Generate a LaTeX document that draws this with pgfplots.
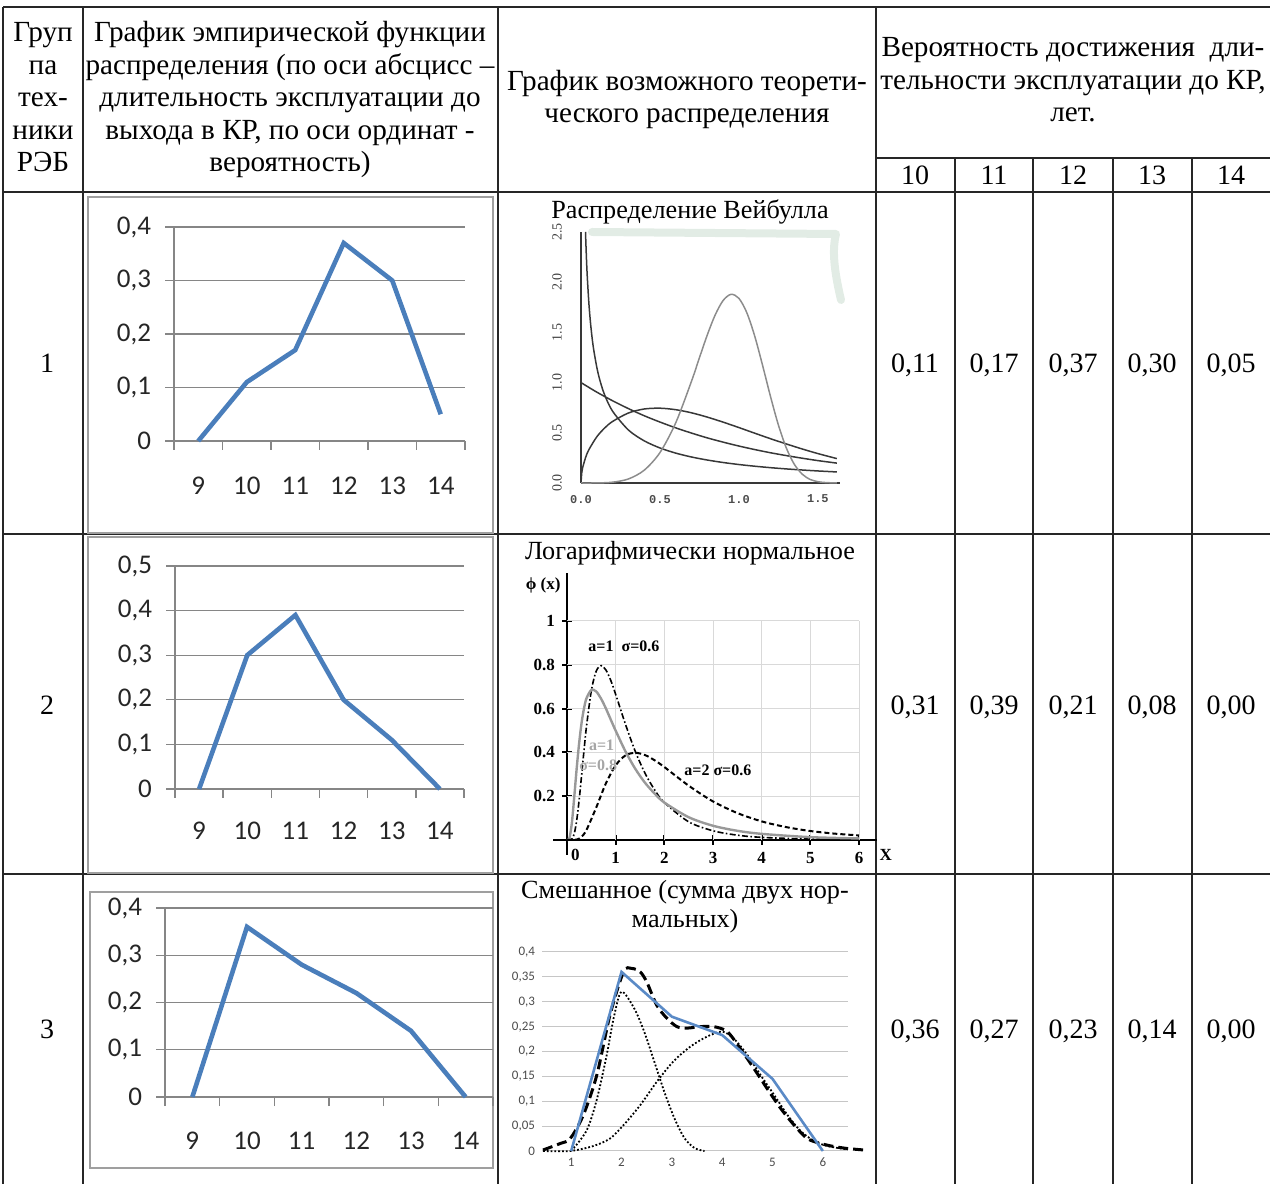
\documentclass[border=0pt]{standalone}
\usepackage{fontspec}
\setmainfont{Liberation Serif}
\newfontfamily\carlito{Carlito}
\newfontfamily\mono{Liberation Mono}
\usepackage{pgfplots}
\pgfplotsset{compat=1.18}
\definecolor{xlblue}{HTML}{4A7EBB}
\definecolor{xlgray}{HTML}{868686}
\definecolor{mixblue}{HTML}{5A8AC6}
\definecolor{wdark}{HTML}{383838}
\definecolor{wlight}{HTML}{8C8C8C}
\definecolor{scrib}{HTML}{E2ECE5}
\newcommand\T{\fontsize{14.6}{16}\selectfont}
\newcommand\N{\fontsize{14}{16}\selectfont}
\newcommand\Ti{\fontsize{13.1}{15}\selectfont}
\pgfplotsset{
  xl/.style={scale only axis, axis lines*=left,
    axis line style={xlgray, line width=0.7pt},
    ymajorgrids, grid style={xlgray, line width=0.7pt},
    tick align=outside, major tick length=4.5pt,
    tick style={xlgray, line width=0.7pt},
    x tick label as interval,
    xtick={8.5,9.5,10.5,11.5,12.5,13.5,14.5},
    xticklabels={9,10,11,12,13,14},
    xmin=8.5, xmax=14.5, ymin=0,
    ticklabel style={font=\carlito\fontsize{13.5}{15}\selectfont, text=black!85},
    yticklabel style={xshift=-3.5pt},
    xticklabel style={yshift=-10pt},
    clip=false},
}
\begin{document}
\begin{tikzpicture}
\path[use as bounding box] (0pt,0pt) rectangle (635pt,592pt);
\begin{scope}[x=0.5pt, y=-0.5pt, shift={(0pt,592pt)}]
% ---------- table grid ----------
\begin{scope}[line width=0.7pt, black!85]
\draw (3,7) -- (1270,7);
\draw (3,192) -- (1270,192);
\draw (3,534) -- (1270,534);
\draw (3,874) -- (1270,874);
\draw (876,158) -- (1270,158);
\draw (3,7) -- (3,1184);
\draw (83,7) -- (83,1184);
\draw (498,7) -- (498,1184);
\draw (876,7) -- (876,1184);
\draw (955,158) -- (955,1184);
\draw (1033,158) -- (1033,1184);
\draw (1113,158) -- (1113,1184);
\draw (1192,158) -- (1192,1184);
\end{scope}
% ---------- header text ----------
\begin{scope}[every node/.style={anchor=base, font=\T, inner sep=0pt}]
\node at (43,42) {Груп};
\node at (43,74.5) {па};
\node at (43,107) {тех-};
\node at (43,139.5) {ники};
\node at (43,172) {РЭБ};
\node at (290,42) {График эмпирической функции};
\node at (290,74.5) {распределения (по оси абсцисс –};
\node at (290,107) {длительность эксплуатации до};
\node at (290,139.5) {выхода в КР, по оси ординат -};
\node at (290,172) {вероятность)};
\node at (687,91) {График возможного теорети-};
\node at (687,123) {ческого распределения};
\node at (1073,57) {Вероятность достижения\ \ дли-};
\node at (1073,90) {тельности эксплуатации до КР,};
\node at (1073,122) {лет.};
\end{scope}
\begin{scope}[every node/.style={anchor=base, font=\N, inner sep=0pt}]
\node at (915,185) {10};
\node at (994,185) {11};
\node at (1073,185) {12};
\node at (1152,185) {13};
\node at (1231,185) {14};
\node at (47,373) {1};
\node at (47,715) {2};
\node at (47,1039) {3};
\node at (915,373) {0,11};
\node at (994,373) {0,17};
\node at (1073,373) {0,37};
\node at (1152,373) {0,30};
\node at (1231,373) {0,05};
\node at (915,715) {0,31};
\node at (994,715) {0,39};
\node at (1073,715) {0,21};
\node at (1152,715) {0,08};
\node at (1231,715) {0,00};
\node at (915,1039) {0,36};
\node at (994,1039) {0,27};
\node at (1073,1039) {0,23};
\node at (1152,1039) {0,14};
\node at (1231,1039) {0,00};
\end{scope}
\begin{scope}[every node/.style={anchor=base, font=\Ti, inner sep=0pt}]
\node at (690,219) {Распределение Вейбулла};
\node at (690,560) {Логарифмически нормальное};
\node at (685,899) {Смешанное (сумма двух нор-};
\node at (685,928) {мальных)};
\end{scope}
% ---------- frames of empirical charts ----------
\draw[gray!75, line width=1pt] (88,197) rectangle (493,533);
\draw[gray!75, line width=1pt] (88,537) rectangle (493,873);
\draw[gray!75, line width=1pt] (90,892) rectangle (493,1168);
\draw[scrib, line width=4pt, line cap=round, line join=round] (592,232) -- (836,234) .. controls (832,250) and (834,270) .. (841,300);
\end{scope}
% ---------- empirical 1 ----------
\begin{axis}[xl, at={(87pt,371.5pt)}, anchor=south west, width=145.5pt, height=107pt,
  ymax=0.4, ytick={0,0.1,0.2,0.3,0.4}, yticklabels={0,{0,1},{0,2},{0,3},{0,4}}]
\addplot[xlblue, line width=2.3pt] coordinates {(9,0) (10,0.11) (11,0.17) (12,0.37) (13,0.30) (14,0.05)};
\end{axis}
% ---------- empirical 2 ----------
\begin{axis}[xl, at={(87.5pt,197.5pt)}, anchor=south west, width=144.5pt, height=111.5pt,
  ymax=0.5, ytick={0,0.1,0.2,0.3,0.4,0.5}, yticklabels={0,{0,1},{0,2},{0,3},{0,4},{0,5}},
  xticklabel style={yshift=1.5pt}]
\addplot[xlblue, line width=2.3pt] coordinates {(9,0) (10,0.30) (11,0.39) (12,0.20) (13,0.11) (14,0)};
\end{axis}
% ---------- empirical 3 ----------
\begin{axis}[xl, at={(82.5pt,43.5pt)}, anchor=south west, width=164pt, height=94.5pt,
  ymax=0.4, ytick={0,0.1,0.2,0.3,0.4}, yticklabels={0,{0,1},{0,2},{0,3},{0,4}},
  xticklabel style={yshift=0.5pt}]
\addplot[xlblue, line width=2.3pt] coordinates {(9,0) (10,0.36) (11,0.28) (12,0.22) (13,0.14) (14,0)};
\end{axis}
% ---------- Weibull ----------
\begin{axis}[at={(290.5pt,350.5pt)}, anchor=south west, scale only axis, width=129.5pt, height=125.5pt,
  xmin=0, xmax=1.64, ymin=0, ymax=2.5, axis lines*=left,
  axis line style={wdark, line width=0.7pt},
  xtick={0,0.5,1,1.5}, xticklabels={0.0,0.5,1.0,1.5},
  ytick={0,0.5,1,1.5,2,2.5}, yticklabels={0.0,0.5,1.0,1.5,2.0,2.5},
  tick style={draw=none},
  xticklabel style={font=\mono\fontsize{6}{7}\selectfont\bfseries, text=black!70, yshift=-2.5pt},
  yticklabel style={font=\fontsize{7}{8}\selectfont, rotate=90, anchor=south, text=black!75, yshift=6pt},
  clip=false]
\addplot[wdark, line width=0.75pt, smooth] coordinates {(0.0286,2.5) (0.03,2.43) (0.035,2.216) (0.04,2.047) (0.05,1.788) (0.06,1.598) (0.07,1.45) (0.08,1.332) (0.1,1.153) (0.12,1.021) (0.15,0.876) (0.2,0.715) (0.3,0.528) (0.4,0.42) (0.5,0.349) (0.6,0.2975) (0.7,0.2588) (0.8,0.2286) (0.9,0.2041) (1.0,0.1839) (1.1,0.1671) (1.2,0.1526) (1.3,0.1402) (1.4,0.1294) (1.5,0.1199) (1.62,0.110)};
\addplot[wdark, line width=0.75pt, smooth] coordinates {(0,1) (0.1,0.905) (0.2,0.819) (0.3,0.741) (0.4,0.670) (0.5,0.607) (0.6,0.549) (0.7,0.497) (0.8,0.449) (0.9,0.407) (1.0,0.368) (1.1,0.333) (1.2,0.301) (1.3,0.273) (1.4,0.247) (1.5,0.223) (1.62,0.198)};
\addplot[wdark, line width=0.75pt, smooth] coordinates {(0,0) (0.005,0.106) (0.01,0.15) (0.03,0.258) (0.05,0.332) (0.1,0.46) (0.15,0.548) (0.2,0.613) (0.3,0.697) (0.4,0.737) (0.5,0.745) (0.6,0.730) (0.7,0.699) (0.8,0.656) (0.9,0.606) (1.0,0.552) (1.1,0.496) (1.2,0.441) (1.3,0.389) (1.4,0.339) (1.5,0.293) (1.62,0.243)};
\addplot[wlight, line width=0.75pt, smooth] coordinates {(0,0) (0.1,0.0005) (0.2,0.008) (0.3,0.040) (0.4,0.127) (0.5,0.303) (0.6,0.600) (0.7,1.015) (0.75,1.248) (0.8,1.476) (0.85,1.675) (0.9,1.818) (0.95,1.879) (1.0,1.839) (1.05,1.696) (1.1,1.463) (1.15,1.170) (1.2,0.861) (1.25,0.577) (1.3,0.349) (1.35,0.188) (1.4,0.089) (1.45,0.036) (1.5,0.013) (1.55,0.004) (1.62,0.0005)};
\end{axis}
% ---------- Lognormal ----------
\begin{axis}[at={(276.5pt,164.5pt)}, anchor=south west, scale only axis, width=162pt, height=141pt,
  xmin=-0.288, xmax=6.37, ymin=-0.0685, ymax=1.219,
  axis lines=middle, axis line style={line width=1pt,-},
  xtick={1,2,3,4,5,6}, ytick={0.2,0.4,0.6,0.8,1},
  xticklabels={1,2,3,4,5,6}, yticklabels={0.2,0.4,0.6,0.8,1},
  tick align=center, major tick length=5pt, tick style={line width=1pt, black},
  ticklabel style={font=\fontsize{8.5}{10}\selectfont\bfseries},
  clip=false]
\draw[gray!30, line width=0.5pt] (axis cs:1,0) -- (axis cs:1,1);
\draw[gray!30, line width=0.5pt] (axis cs:2,0) -- (axis cs:2,1);
\draw[gray!30, line width=0.5pt] (axis cs:3,0) -- (axis cs:3,1);
\draw[gray!30, line width=0.5pt] (axis cs:4,0) -- (axis cs:4,1);
\draw[gray!30, line width=0.5pt] (axis cs:5,0) -- (axis cs:5,1);
\draw[gray!30, line width=0.5pt] (axis cs:6,0) -- (axis cs:6,1);
\draw[gray!30, line width=0.5pt] (axis cs:0,0.2) -- (axis cs:6,0.2);
\draw[gray!30, line width=0.5pt] (axis cs:0,0.4) -- (axis cs:6,0.4);
\draw[gray!30, line width=0.5pt] (axis cs:0,0.6) -- (axis cs:6,0.6);
\draw[gray!30, line width=0.5pt] (axis cs:0,0.8) -- (axis cs:6,0.8);
\draw[gray!30, line width=0.5pt] (axis cs:0,1) -- (axis cs:6,1);
\addplot[black, line width=0.8pt, smooth, dash pattern=on 3pt off 1.2pt on 0.8pt off 1.2pt] coordinates {(0,0) (0.1,0.0042) (0.15,0.030) (0.2,0.091) (0.25,0.184) (0.3,0.296) (0.35,0.411) (0.4,0.518) (0.5,0.682) (0.6,0.771) (0.7,0.796) (0.8,0.776) (0.9,0.728) (1.0,0.665) (1.2,0.529) (1.4,0.406) (1.6,0.306) (1.8,0.229) (2.0,0.171) (2.5,0.083) (3.0,0.042) (3.5,0.022) (4.0,0.012) (5.0,0.004) (6.0,0.001)};
\addplot[gray!80, line width=1.2pt, smooth] coordinates {(0,0) (0.05,0.009) (0.1,0.079) (0.15,0.200) (0.2,0.330) (0.25,0.444) (0.3,0.536) (0.35,0.602) (0.4,0.647) (0.5,0.685) (0.6,0.678) (0.7,0.645) (0.8,0.600) (0.9,0.549) (1.0,0.499) (1.2,0.405) (1.4,0.326) (1.6,0.262) (1.8,0.212) (2.0,0.171) (2.5,0.104) (3.0,0.065) (3.5,0.042) (4.0,0.028) (5.0,0.013) (6.0,0.007)};
\addplot[black, line width=1pt, smooth, dash pattern=on 2.5pt off 1.5pt] coordinates {(0,0) (0.2,0.002) (0.3,0.015) (0.4,0.046) (0.6,0.148) (0.8,0.259) (1.0,0.341) (1.2,0.386) (1.4,0.398) (1.6,0.388) (1.8,0.364) (2.0,0.333) (2.5,0.248) (3.0,0.176) (3.5,0.123) (4.0,0.085) (4.5,0.059) (5.0,0.041) (5.5,0.029) (6.0,0.021)};
\node[font=\fontsize{8}{9}\selectfont\bfseries] at (axis cs:1.17,0.886) {a=1\ \ σ=0.6};
\node[font=\fontsize{8}{9}\selectfont\bfseries, text=gray!70] at (axis cs:0.71,0.434) {a=1};
\node[font=\fontsize{8}{9}\selectfont\bfseries, text=gray!70] at (axis cs:0.64,0.342) {σ=0.8};
\node[font=\fontsize{8}{9}\selectfont\bfseries] at (axis cs:3.10,0.32) {a=2 σ=0.6};
\node[font=\fontsize{8.5}{10}\selectfont\bfseries] at (axis cs:-0.49,1.164) {ϕ (x)};
\node[font=\fontsize{8.5}{10}\selectfont\bfseries, anchor=north] at (axis cs:0.17,-0.01) {0};
\node[font=\fontsize{8.5}{10}\selectfont\bfseries, anchor=north] at (axis cs:6.55,-0.01) {X};
\end{axis}
% ---------- Mixed ----------
\begin{axis}[at={(271pt,16.5pt)}, anchor=south west, scale only axis, width=153pt, height=99.5pt,
  xmin=0.42, xmax=6.5, ymin=0, ymax=0.4,
  axis line style={draw=none}, tick style={draw=none},
  ymajorgrids, grid style={gray!45, line width=0.5pt},
  xtick={1,2,3,4,5,6}, xticklabels={1,2,3,4,5,6},
  ytick={0,0.05,0.1,0.15,0.2,0.25,0.3,0.35,0.4},
  yticklabels={0,{0,05},{0,1},{0,15},{0,2},{0,25},{0,3},{0,35},{0,4}},
  ticklabel style={font=\carlito\fontsize{6.5}{7}\selectfont, text=black!70},
  clip=false]
\addplot[black, line width=0.9pt, densely dotted, smooth] coordinates {(0.44,0.0) (0.98,0.0) (1.44,0.01) (1.77,0.025) (2.04,0.052) (2.37,0.092) (2.70,0.139) (3.03,0.18) (3.37,0.21) (3.70,0.23) (4.0,0.24) (4.23,0.226) (4.50,0.193) (4.76,0.153) (5.03,0.113) (5.30,0.072) (5.56,0.04) (5.83,0.02) (6.09,0.01) (6.49,0.003)};
\addplot[black, line width=0.9pt, densely dotted, smooth] coordinates {(1.0,0.0) (1.3,0.04) (1.5,0.1) (1.7,0.19) (1.85,0.27) (2.0,0.32) (2.25,0.287) (2.45,0.24) (2.65,0.18) (2.85,0.119) (3.05,0.066) (3.25,0.026) (3.45,0.006) (3.65,0.0)};
\addplot[black, line width=1.5pt, dash pattern=on 5pt off 2.5pt, smooth] coordinates {(0.44,0.002) (0.78,0.015) (0.98,0.025) (1.24,0.072) (1.51,0.153) (1.77,0.273) (2.04,0.36) (2.20,0.367) (2.37,0.36) (2.50,0.34) (2.70,0.293) (2.90,0.267) (3.10,0.25) (3.30,0.247) (3.57,0.25) (3.83,0.25) (4.10,0.24) (4.36,0.206) (4.63,0.166) (4.89,0.126) (5.16,0.086) (5.43,0.052) (5.69,0.025) (5.96,0.015) (6.22,0.009) (6.49,0.005) (6.82,0.002)};
\addplot[mixblue, line width=1.3pt] coordinates {(1,0) (2,0.36) (3,0.27) (4,0.233) (5,0.145) (6,0)};
\end{axis}
\end{tikzpicture}
\end{document}
